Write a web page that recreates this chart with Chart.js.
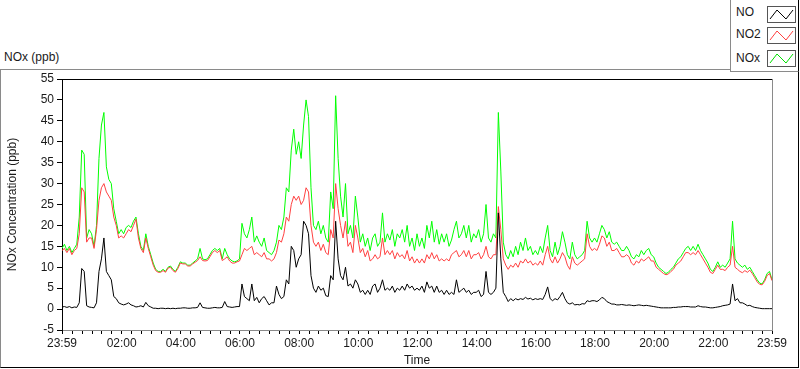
<!DOCTYPE html>
<html>
<head>
<meta charset="utf-8">
<script src="https://cdn.jsdelivr.net/npm/chart.js@4.4.1/dist/chart.umd.min.js"></script>
<style>
    body { margin: 0; background: #fff; font-family: "Liberation Sans", Arial, sans-serif; }
    #wrap { position: relative; width: 800px; height: 369px; overflow: hidden; }
    #panel { position: absolute; left: 0; top: 69px; width: 797px; height: 297px;
             border-top: 1px solid #8a8a8a; border-left: 1px solid #8a8a8a;
             border-right: 1px solid #000; border-bottom: 1px solid #000; }
    #title { position: absolute; left: 4px; top: 50px; font-size: 12px; color: #1a1a1a; }
    #legend { position: absolute; left: 730px; top: -1px; width: 67px; height: 72px;
              background: #fff; border-left: 1px solid #8a8a8a; border-bottom: 1px solid #8a8a8a;
              border-right: 1px solid #000; }
    .row { position: absolute; left: 5px; font-size: 12px; color: #1a1a1a; }
    .sw { position: absolute; left: 36px; width: 27px; height: 15px; border: 1px solid #555; background: #fff; }
    canvas { position: absolute; left: 0; top: 0; }
</style>
</head>
<body>
<div id="wrap">
    <div id="panel"></div>
    <div id="title">NOx (ppb)</div>
    <div id="legend">
        <div class="row" style="top:6px">NO</div>
        <div class="sw" style="top:7px"><svg width="27" height="15"><polyline points="2,12 9,3 18,12 25,3" fill="none" stroke="#000" stroke-width="1"/></svg></div>
        <div class="row" style="top:28px">NO2</div>
        <div class="sw" style="top:28px"><svg width="27" height="15"><polyline points="2,12 9,3 18,12 25,3" fill="none" stroke="#ff4040" stroke-width="1"/></svg></div>
        <div class="row" style="top:52px">NOx</div>
        <div class="sw" style="top:51px"><svg width="27" height="15"><polyline points="2,12 9,3 18,12 25,3" fill="none" stroke="#00e000" stroke-width="1"/></svg></div>
    </div>
    <canvas id="noxChart" width="800" height="369"></canvas>
</div>
<script>
// minutes after 23:59 of the previous day, one reading every 5 minutes
const minutes = [];
for (let m = 0; m <= 1440; m += 5) minutes.push(m);

// one row per hour (12 readings)
const noValues = [
    0.5, 0.6, 0.4, 0.6, 0.3, 0.5, 0.4, 1.5, 9.7, 9, 0.8, 0.5,
    0.4, 0.3, 1.5, 9, 12, 17, 9, 8, 7, 3, 2.5, 1.5,
    1.2, 1, 1.2, 1.5, 1, 0.8, 0.5, 0.6, 0.8, 0.5, 1.6, 0.8,
    0.5, 0.2, 0.2, 0.1, 0.2, 0.2, 0.1, 0.2, 0.1, 0.2, 0.1, 0.2,
    0.2, 0.3, 0.3, 0.2, 0.2, 0.3, 0.3, 0.4, 1.5, 0.4, 0.3, 0.2,
    0.2, 0.3, 0.4, 0.3, 0.3, 0.4, 1.8, 0.6, 0.5, 0.4, 0.5, 0.6,
    0.6, 6, 3, 2.5, 2, 6, 2, 2.8, 1.5, 2.5, 3, 2,
    1, 1.5, 1.5, 5.5, 3.5, 2.5, 3, 7, 6, 15, 14, 10,
    12, 13, 21, 20, 18, 8, 5, 4, 5.5, 4.5, 5, 3.2,
    3, 8, 7, 21, 12, 8, 7, 10, 5.5, 6, 5, 7,
    6, 4, 4.5, 3.5, 4.5, 3.5, 5.5, 6, 4, 5, 7, 4.5,
    5, 4.5, 5.5, 4, 5, 4.5, 5.5, 4.5, 6, 5, 5.5, 4.5,
    5, 4.5, 5.5, 4, 6.5, 5, 5.5, 4, 5.5, 4, 4.5, 3.5,
    4.5, 3.5, 4, 3.5, 7, 4, 4.5, 5, 4, 4.5, 3.5, 4,
    4, 4.5, 3, 3.5, 9, 4, 3.5, 4, 5, 23, 12, 4,
    3, 1.8, 2.5, 2, 2.5, 2.2, 2.5, 2.3, 2.8, 2.4, 2.6, 2.2,
    2.5, 2.3, 2.5, 2.3, 3.5, 5.3, 2.5, 2, 2.5, 2.2, 3, 4,
    2.5, 1.5, 1.2, 1.5, 1, 1.1, 1, 1.3, 1.2, 2, 1.8, 2,
    2, 1.8, 2.2, 2.8, 2.5, 1.8, 1.5, 1.2, 1.2, 1, 1, 1.1,
    1, 0.9, 1, 0.9, 0.8, 0.9, 1, 0.9, 0.8, 0.9, 0.8, 0.7,
    0.6, 0.5, 0.4, 0.3, 0.3, 0.3, 0.3, 0.3, 0.4, 0.4, 0.5, 0.5,
    0.6, 0.6, 0.6, 0.5, 0.5, 0.5, 0.8, 0.6, 0.5, 0.5, 0.4, 0.3,
    0.3, 0.4, 0.5, 0.6, 0.8, 0.9, 1, 1.2, 6, 2, 2.5, 1.5,
    1.5, 1.2, 0.8, 0.9, 0.6, 0.4, 0.3, 0.2, 0.1, 0.1, 0.1, 0.1,
    0.1
];

const no2Values = [
    14, 14.5, 13.5, 14.5, 13, 14, 14.5, 18, 29, 28, 16, 17,
    17, 14.5, 19, 26, 29, 30, 28, 27, 26, 22, 20, 17,
    17.5, 17, 18, 19, 18.5, 20, 21.5, 17, 14.5, 13.5, 17, 14.5,
    12.5, 10.5, 9.2, 8.8, 8.8, 9.2, 8.8, 9.8, 10, 9.2, 8.8, 9.7,
    11, 10.8, 10.8, 10.3, 10.3, 10.8, 11.2, 11.6, 12.5, 11.6, 11.5, 11.6,
    12.5, 13.5, 14, 13.5, 14, 11.6, 12, 12.5, 11.5, 11, 11, 11.3,
    11.5, 13, 14.5, 14, 14.5, 15, 13, 13.5, 13, 12.5, 13.5, 12,
    12, 11.5, 12, 13.5, 16.5, 16, 18, 22, 21, 25, 27, 26,
    27, 25, 26, 29, 28, 20, 16, 15, 16, 14, 15.5, 13.5,
    13, 19, 17, 30, 24, 20, 17, 21, 15, 16, 13.5, 20,
    17, 13.5, 14.5, 12.5, 14, 11.5, 12, 13, 12, 12.5, 17, 13,
    14, 13, 14, 12, 13.5, 12.5, 13, 12, 14, 11.5, 12.5, 11,
    12, 11, 12, 11, 13, 12, 13.5, 12, 13, 11.5, 12, 11.5,
    12, 11.5, 13, 13.5, 14, 12.5, 13, 14, 12.5, 14, 12, 13,
    13, 13.5, 12, 13, 15, 12.5, 12, 13, 13, 24.5, 19, 12,
    10.5, 9.5, 10.5, 10, 11, 10, 11.5, 11, 12, 11, 11.5, 10.5,
    11, 10.5, 11.5, 10.5, 13, 15, 12, 11, 12.5, 11, 12, 13.5,
    12.5, 10.5, 9.5, 12.5, 11, 10.5, 11, 11.5, 12, 18, 15, 14,
    14.5, 14, 15.5, 17.5, 17, 15, 16, 14, 14, 14.5, 13.5, 12.5,
    12.5, 13, 12.5, 11, 10.5, 11.5, 11, 12, 11.5, 12, 12.5, 11.5,
    11.5, 10, 9.5, 9, 8.5, 8.2, 8.4, 9, 9.5, 10.5, 11, 11.5,
    12.5, 13.5, 13.5, 13, 13.5, 13, 14, 13, 12, 11, 10, 8.8,
    8.5, 9.5, 10.5, 9.5, 9.5, 9.2, 10, 10.5, 15, 10, 9.5, 9,
    8.7, 9.2, 8.8, 9.3, 8.5, 7.5, 6.5, 5.9, 5.8, 6.6, 8, 8.5,
    6.8
];

const noxValues = [
    14.5, 15.5, 14, 15, 13.5, 14.5, 15.5, 22, 38, 37, 17, 19,
    18, 15, 20, 36, 44, 47, 34, 31, 30, 24, 21, 18,
    19, 18, 19.5, 20, 19.5, 21, 22, 18, 15, 14, 18, 15,
    13, 11, 9.5, 9, 9, 9.5, 9, 10, 10.3, 9.5, 9, 10,
    11.3, 11, 11, 10.5, 10.5, 11, 11.5, 12, 14.5, 12, 11.8, 12,
    13, 14, 14.5, 14, 14.5, 12, 14.5, 13, 12, 11.5, 11.3, 11.5,
    12, 20.5, 18, 17, 19, 22, 16, 17.5, 16, 15, 17, 14,
    13.5, 13, 14, 16, 20, 19, 22, 29, 28, 38, 43, 37,
    40, 36, 44, 50, 46, 29, 20, 19, 21, 18, 20, 17,
    16, 28, 24, 51, 36, 27, 22, 30, 18, 20, 17, 27,
    22, 16, 18, 15, 17, 14, 17, 18, 15, 16, 23, 16,
    18, 16.5, 19, 15, 18, 17, 19, 16, 20, 15, 17, 14,
    18, 15, 17, 14.5, 20, 17, 21, 16, 19, 15.5, 18, 16,
    18, 15, 16.5, 19, 21, 17, 18, 20, 17, 20, 16, 18,
    17, 19, 16, 18, 25, 17, 16, 18, 17, 47, 33, 16,
    13, 12, 14, 12.5, 15, 13, 16, 14, 17, 14, 15, 13,
    14, 13, 15, 13.5, 17, 20, 14, 12.5, 16, 13, 15, 18.5,
    16, 13, 12, 16, 13, 12, 12.5, 13, 14, 21, 17, 16,
    17, 16, 18, 20, 19, 17, 18.5, 16, 15.5, 16, 15, 14,
    14, 15, 14, 12.5, 12, 13, 12.5, 14, 13, 14, 14.5, 13,
    12.5, 11, 10, 9.5, 9, 8.5, 8.8, 9.5, 10, 11, 12, 12.5,
    13.5, 14.5, 15, 14, 15, 14, 15.5, 14, 13, 12, 11, 9.5,
    9, 10, 11.3, 10, 10.5, 10, 11, 12, 21, 12, 11, 10.5,
    10, 10.5, 9.5, 10, 9, 8, 7, 6.2, 6, 7, 8.5, 9,
    7
];

const yTicks = [-5, 0, 5, 10, 15, 20, 25, 30, 35, 40, 45, 50, 55];
const xLabelMinutes = [0, 121, 241, 361, 481, 601, 721, 841, 961, 1081, 1201, 1321, 1440];
const xLabels = ['23:59', '02:00', '04:00', '06:00', '08:00', '10:00', '12:00', '14:00', '16:00', '18:00', '20:00', '22:00', '23:59'];

function toPoints(values) {
    return values.map((v, i) => ({ x: minutes[i], y: v }));
}

// top and right edges of the plot frame
const plotFrame = {
    id: 'plotFrame',
    afterDatasetsDraw(chart) {
        const a = chart.chartArea;
        const ctx = chart.ctx;
        ctx.save();
        ctx.lineWidth = 1;
        ctx.strokeStyle = '#000';
        ctx.beginPath();
        ctx.moveTo(a.left, a.top + 0.5);
        ctx.lineTo(a.right, a.top + 0.5);
        ctx.stroke();
        ctx.strokeStyle = '#8a8a8a';
        ctx.beginPath();
        ctx.moveTo(a.right + 0.5, a.top);
        ctx.lineTo(a.right + 0.5, a.bottom);
        ctx.stroke();
        ctx.restore();
    }
};

const textFont = { family: '"Liberation Sans", Arial, sans-serif', size: 12 };

new Chart(document.getElementById('noxChart').getContext('2d'), {
    type: 'line',
    data: {
        datasets: [
            { label: 'NO', data: toPoints(noValues), borderColor: '#000000' },
            { label: 'NO2', data: toPoints(no2Values), borderColor: '#ff4040' },
            { label: 'NOx', data: toPoints(noxValues), borderColor: '#00ff00' }
        ]
    },
    options: {
        responsive: false,
        animation: false,
        layout: { padding: { top: 79, right: 28, bottom: 0, left: 0 } },
        elements: {
            line: { borderWidth: 1, tension: 0 },
            point: { radius: 0 }
        },
        plugins: {
            legend: { display: false },
            tooltip: { enabled: false }
        },
        scales: {
            x: {
                type: 'linear',
                min: 0,
                max: 1440,
                afterFit: (s) => { s.height = 39; },
                afterBuildTicks: (s) => {
                    const t = [{ value: 0 }];
                    for (let m = 21; m <= 1421; m += 20) t.push({ value: m });
                    t.push({ value: 1440 });
                    s.ticks = t;
                },
                ticks: {
                    autoSkip: false,
                    maxRotation: 0,
                    padding: 2,
                    color: '#1a1a1a',
                    font: textFont,
                    callback: (v) => {
                        const k = xLabelMinutes.indexOf(v);
                        return k >= 0 ? xLabels[k] : '';
                    }
                },
                grid: { drawOnChartArea: false, tickLength: 4, color: '#000' },
                border: { color: '#8a8a8a' },
                title: { display: true, text: 'Time', color: '#1a1a1a', font: textFont, padding: { top: 0, bottom: 1 } }
            },
            y: {
                min: -5,
                max: 55,
                afterFit: (s) => { s.width = 62; },
                afterBuildTicks: (s) => { s.ticks = yTicks.map(v => ({ value: v })); },
                ticks: { padding: 3, color: '#1a1a1a', font: textFont },
                grid: { drawOnChartArea: false, tickLength: 5, color: '#000' },
                border: { color: '#000' },
                title: { display: true, text: 'NOx Concentration (ppb)', color: '#1a1a1a', font: textFont, padding: { top: 5, bottom: 0 } }
            }
        }
    },
    plugins: [plotFrame]
});
</script>
</body>
</html>
